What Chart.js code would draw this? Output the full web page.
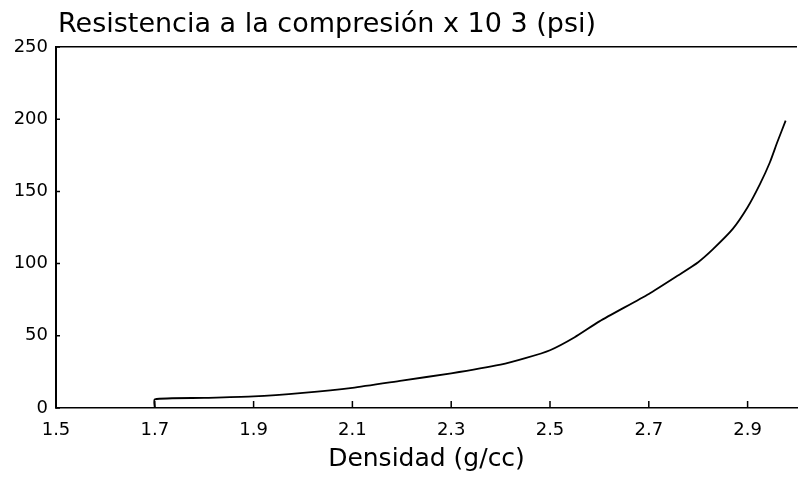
<!DOCTYPE html>
<html>
<head>
<meta charset="utf-8">
<script src="https://cdn.jsdelivr.net/npm/chart.js@4"></script>
<style>
  html, body { margin: 0; padding: 0; background: #fff; }
  #wrap { width: 798px; height: 478px; }
</style>
</head>
<body>
<div id="wrap"><canvas id="grafico"></canvas></div>
<script>
// valores
const densidad = [1.7, 1.7, 1.8, 1.9, 2.0, 2.1, 2.2, 2.3, 2.4, 2.45, 2.5, 2.55, 2.6, 2.7, 2.76, 2.8, 2.83, 2.87, 2.9, 2.925, 2.945, 2.96, 2.977];
const resistencia = [0, 6, 7, 8, 10.5, 14, 19, 24, 30, 34.5, 40, 49, 60, 79, 92, 101, 110, 124, 139, 155, 170, 184, 199];
const ticksX = [1.5, 1.7, 1.9, 2.1, 2.3, 2.5, 2.7, 2.9];
const ticksY = [0, 50, 100, 150, 200, 250];

const titulo = 'Resistencia a la compresión x 10 3 (psi)';
const tituloX = 'Densidad (g/cc)';
const fuente = '"DejaVu Sans", Verdana, sans-serif';

// marcas de los ejes hacia dentro + titulo arriba a la izquierda
const extras = {
  id: 'extras',
  afterDraw(chart) {
    const ctx = chart.ctx;
    const a = chart.chartArea;
    const sx = chart.scales.x, sy = chart.scales.y;
    ctx.save();
    ctx.strokeStyle = '#000';
    ctx.lineWidth = 1.5;
    ctx.beginPath();
    ticksX.forEach(v => {
      const px = sx.getPixelForValue(v);
      ctx.moveTo(px, a.bottom);
      ctx.lineTo(px, a.bottom - 7);
    });
    ticksY.forEach(v => {
      const py = sy.getPixelForValue(v);
      ctx.moveTo(a.left, py);
      ctx.lineTo(a.left + 4, py);
    });
    ctx.stroke();
    ctx.fillStyle = '#000';
    ctx.font = '27px ' + fuente;
    ctx.textBaseline = 'alphabetic';
    ctx.textAlign = 'left';
    ctx.fillText(titulo, a.left + 2, 32);
    ctx.restore();
  }
};

const ctx = document.getElementById('grafico').getContext('2d');

new Chart(ctx, {
  type: 'line',
  data: {
    datasets: [{
      data: densidad.map((d, i) => ({ x: d, y: resistencia[i] })),
      borderColor: '#000',
      borderWidth: 1.8,
      pointRadius: 0,
      tension: 0.2,
      fill: false
    }]
  },
  options: {
    responsive: true,
    maintainAspectRatio: false,
    animation: false,
    layout: { padding: { top: 47, right: 1, left: 0, bottom: 0 } },
    plugins: { legend: { display: false }, tooltip: { enabled: false } },
    scales: {
      x: {
        type: 'linear',
        min: 1.5,
        max: 3.0,
        afterBuildTicks: s => { s.ticks = ticksX.map(v => ({ value: v })); },
        afterFit: s => { s.height = 70; },
        grid: { display: false, drawTicks: false },
        border: { color: '#000', width: 1.5 },
        ticks: {
          color: '#000',
          padding: 12,
          font: { family: fuente, size: 18 },
          callback: v => v.toFixed(1)
        },
        title: {
          display: true,
          text: tituloX,
          color: '#000',
          font: { family: fuente, size: 25 },
          padding: { top: 0 }
        }
      },
      y: {
        min: 0,
        max: 250,
        afterBuildTicks: s => { s.ticks = ticksY.map(v => ({ value: v })); },
        afterFit: s => { s.width = 56; },
        grid: {
          drawTicks: false,
          color: c => c.tick && c.tick.value === 250 ? '#000' : 'rgba(0,0,0,0)',
          lineWidth: 1.5
        },
        border: { color: '#000', width: 2 },
        ticks: {
          color: '#000',
          padding: 8,
          font: { family: fuente, size: 18 }
        }
      }
    }
  },
  plugins: [extras]
});
</script>
</body>
</html>
